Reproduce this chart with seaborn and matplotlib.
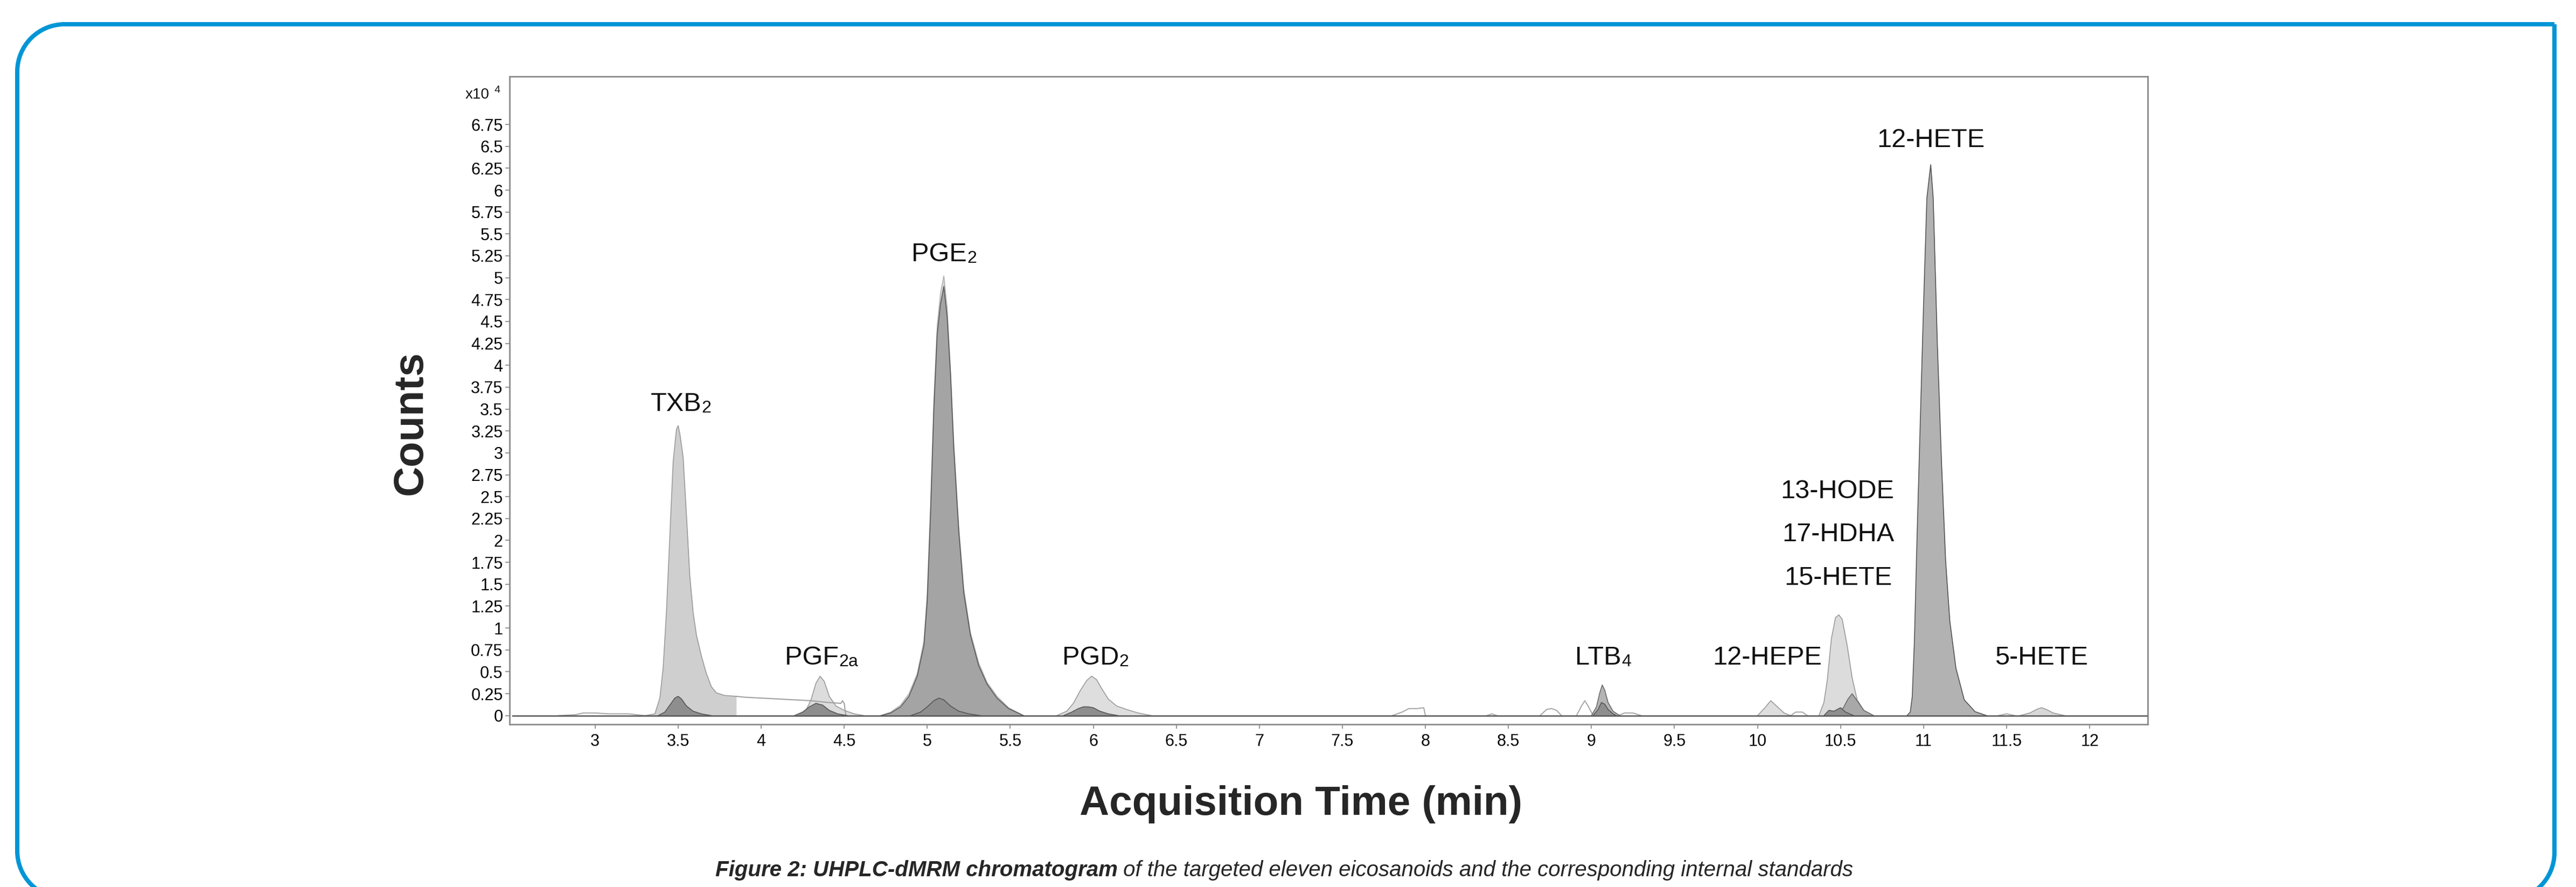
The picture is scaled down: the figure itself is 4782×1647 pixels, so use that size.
import numpy as np
import pandas as pd
import matplotlib.pyplot as plt
import seaborn as sns
from matplotlib import transforms
from matplotlib.lines import Line2D
from matplotlib.patches import Arc

# Chromatogram traces: time (min) and counts (x10^4)
# light traces (analytes)
txb2_t = [3.30, 3.36, 3.39, 3.41, 3.43, 3.45, 3.47, 3.49, 3.50, 3.51, 3.53, 3.55, 3.57, 3.59, 3.61, 3.64, 3.67, 3.70, 3.73, 3.78, 3.85]
txb2_y = [0.00, 0.02, 0.20, 0.55, 1.20, 2.05, 2.90, 3.27, 3.31, 3.22, 2.95, 2.29, 1.60, 1.18, 0.92, 0.68, 0.48, 0.33, 0.26, 0.23, 0.22]
txb2_tail_t = [3.85, 3.90, 4.00, 4.10, 4.20, 4.30, 4.40, 4.48, 4.49, 4.50, 4.51]
txb2_tail_y = [0.22, 0.21, 0.20, 0.19, 0.18, 0.17, 0.15, 0.14, 0.17, 0.14, 0.00]
pgf2a_t = [4.22, 4.27, 4.30, 4.33, 4.355, 4.38, 4.41, 4.45, 4.50, 4.56, 4.62]
pgf2a_y = [0.00, 0.06, 0.18, 0.37, 0.45, 0.39, 0.22, 0.11, 0.06, 0.02, 0.00]
pge2_light_t = [4.72, 4.78, 4.84, 4.89, 4.94, 4.98, 5.00, 5.02, 5.04, 5.06, 5.08, 5.10, 5.12, 5.14, 5.16, 5.19, 5.22, 5.26, 5.31, 5.36, 5.42, 5.49, 5.58]
pge2_light_y = [0.00, 0.04, 0.12, 0.25, 0.48, 0.85, 1.40, 2.40, 3.60, 4.45, 4.82, 5.02, 4.65, 3.95, 3.10, 2.15, 1.45, 0.95, 0.60, 0.38, 0.22, 0.09, 0.00]
pgd2_t = [5.78, 5.84, 5.88, 5.92, 5.96, 5.99, 6.02, 6.05, 6.09, 6.14, 6.20, 6.27, 6.35]
pgd2_y = [0.00, 0.05, 0.14, 0.28, 0.40, 0.45, 0.41, 0.31, 0.19, 0.11, 0.07, 0.03, 0.00]
hepe_t = [10.00, 10.04, 10.08, 10.12, 10.16, 10.20]
hepe_y = [0.00, 0.08, 0.17, 0.10, 0.03, 0.00]
hete15_t = [10.37, 10.40, 10.42, 10.445, 10.47, 10.49, 10.51, 10.54, 10.57, 10.60, 10.64, 10.69]
hete15_y = [0.00, 0.15, 0.40, 0.88, 1.12, 1.15, 1.10, 0.80, 0.43, 0.18, 0.06, 0.00]
hete5_t = [11.58, 11.64, 11.68, 11.71, 11.74, 11.78, 11.85]
hete5_y = [0.00, 0.03, 0.07, 0.09, 0.07, 0.03, 0.00]

# medium traces
pge2_t = [4.72, 4.78, 4.84, 4.89, 4.94, 4.98, 5.00, 5.02, 5.04, 5.06, 5.08, 5.10, 5.12, 5.14, 5.16, 5.19, 5.22, 5.26, 5.31, 5.36, 5.42, 5.49, 5.58]
pge2_y = [0.00, 0.03, 0.10, 0.22, 0.45, 0.80, 1.30, 2.30, 3.50, 4.35, 4.70, 4.90, 4.55, 3.90, 3.05, 2.10, 1.40, 0.92, 0.57, 0.36, 0.20, 0.08, 0.00]
ltb4_t = [9.00, 9.03, 9.05, 9.065, 9.08, 9.10, 9.13, 9.17]
ltb4_y = [0.00, 0.10, 0.26, 0.35, 0.29, 0.15, 0.05, 0.00]
hode_t = [10.47, 10.50, 10.52, 10.545, 10.57, 10.60, 10.64, 10.70]
hode_y = [0.00, 0.04, 0.10, 0.19, 0.25, 0.17, 0.06, 0.00]
hete12_t = [10.90, 10.92, 10.932, 10.945, 10.96, 10.98, 11.00, 11.02, 11.043, 11.058, 11.083, 11.108, 11.133, 11.158, 11.195, 11.245, 11.31, 11.38]
hete12_y = [0.00, 0.04, 0.22, 0.86, 1.98, 3.34, 4.69, 5.91, 6.29, 5.91, 4.24, 2.89, 1.76, 1.08, 0.54, 0.18, 0.045, 0.00]

# internal standards (dark)
is_txb2_t = [3.38, 3.42, 3.45, 3.48, 3.50, 3.52, 3.55, 3.59, 3.64, 3.70]
is_txb2_y = [0.00, 0.04, 0.12, 0.20, 0.22, 0.19, 0.11, 0.05, 0.02, 0.00]
is_pgf_t = [4.20, 4.25, 4.29, 4.33, 4.37, 4.41, 4.46, 4.52]
is_pgf_y = [0.00, 0.04, 0.10, 0.14, 0.12, 0.06, 0.02, 0.00]
is_pge_t = [4.90, 4.96, 5.00, 5.04, 5.07, 5.10, 5.14, 5.19, 5.25, 5.32]
is_pge_y = [0.00, 0.04, 0.10, 0.17, 0.20, 0.18, 0.11, 0.05, 0.02, 0.00]
is_pgd_t = [5.82, 5.87, 5.91, 5.94, 5.97, 6.00, 6.04, 6.09, 6.15]
is_pgd_y = [0.00, 0.04, 0.08, 0.10, 0.10, 0.09, 0.05, 0.02, 0.00]
is_ltb_t = [9.01, 9.04, 9.06, 9.08, 9.10, 9.13, 9.15]
is_ltb_y = [0.00, 0.07, 0.15, 0.13, 0.07, 0.02, 0.00]
is_hete_t = [10.40, 10.43, 10.46, 10.48, 10.50, 10.53, 10.58]
is_hete_y = [0.00, 0.06, 0.05, 0.07, 0.09, 0.04, 0.00]

# small unfilled bumps
bump_t = [[2.78, 2.88, 2.93, 3.00, 3.08, 3.20, 3.30],
          [7.80, 7.86, 7.90, 7.95, 7.99, 8.00],
          [8.37, 8.40, 8.43],
          [8.69, 8.73, 8.76, 8.79, 8.82],
          [8.91, 8.94, 8.96, 8.98, 9.01],
          [9.16, 9.20, 9.25, 9.30],
          [10.20, 10.23, 10.27, 10.30],
          [11.45, 11.50, 11.55]]
bump_y = [[0.00, 0.01, 0.03, 0.03, 0.02, 0.02, 0.00],
          [0.00, 0.04, 0.08, 0.08, 0.09, 0.00],
          [0.00, 0.02, 0.00],
          [0.00, 0.07, 0.08, 0.06, 0.00],
          [0.00, 0.11, 0.17, 0.11, 0.00],
          [0.00, 0.03, 0.03, 0.00],
          [0.00, 0.04, 0.04, 0.00],
          [0.00, 0.02, 0.00]]

base_t = [2.50, 12.35]
base_y = [0.0, 0.0]

xticks = [3, 3.5, 4, 4.5, 5, 5.5, 6, 6.5, 7, 7.5, 8, 8.5, 9, 9.5, 10, 10.5, 11, 11.5, 12]
yticks = [0, 0.25, 0.5, 0.75, 1, 1.25, 1.5, 1.75, 2, 2.25, 2.5, 2.75, 3, 3.25, 3.5, 3.75,
          4, 4.25, 4.5, 4.75, 5, 5.25, 5.5, 5.75, 6, 6.25, 6.5, 6.75]

# peak labels: (main, subscript, time, counts)
labels = [("TXB", "2", 3.518, 3.48), ("PGF", "2a", 4.364, 0.585), ("PGE", "2", 5.102, 5.19),
          ("PGD", "2", 6.014, 0.585), ("LTB", "4", 9.07, 0.585), ("12-HEPE", "", 10.06, 0.585),
          ("13-HODE", "", 10.48, 2.48), ("17-HDHA", "", 10.485, 1.99), ("15-HETE", "", 10.485, 1.49),
          ("12-HETE", "", 11.045, 6.49), ("5-HETE", "", 11.71, 0.585)]

sns.set_theme(style="white")
plt.rcParams['font.family'] = ['Liberation Sans', 'DejaVu Sans']

W, H = 4782, 1647
fig = plt.figure(figsize=(W / 100, H / 100), dpi=100)
ax = fig.add_axes([946 / W, 1 - 1345 / H, (3987 - 946) / W, (1345 - 141.6) / H])


def trace(t, y, fill, edge, z, lw=1.2):
    df = pd.DataFrame({"time": t, "counts": y})
    if fill is not None:
        ax.fill_between(df["time"], df["counts"], 0, color=fill, lw=0, zorder=z)
    sns.lineplot(data=df, x="time", y="counts", color=edge, lw=lw, estimator=None,
                 sort=False, ax=ax, zorder=z + 0.1)


light_edge = "#9a9a9a"
for t, y in zip(bump_t, bump_y):
    trace(t, y, None, "#a8a8a8", 2, lw=1.5)
trace(txb2_tail_t, txb2_tail_y, None, "#a0a0a0", 2, lw=1.5)
trace(txb2_t, txb2_y, "#cfcfcf", light_edge, 2)
trace(pgf2a_t, pgf2a_y, "#dcdcdc", light_edge, 2)
trace(pge2_light_t, pge2_light_y, "#d8d8d8", "#b0b0b0", 2)
trace(pgd2_t, pgd2_y, "#dedede", light_edge, 2)
trace(hepe_t, hepe_y, "#dedede", light_edge, 2)
trace(hete15_t, hete15_y, "#dcdcdc", light_edge, 2)
trace(hete5_t, hete5_y, "#d8d8d8", light_edge, 2)

trace(pge2_t, pge2_y, "#a4a4a4", "#5a5a5a", 3)
trace(ltb4_t, ltb4_y, "#b4b4b4", "#6a6a6a", 3)
trace(hode_t, hode_y, "#a8a8a8", "#6a6a6a", 3)
trace(hete12_t, hete12_y, "#b2b2b2", "#555555", 3)

for t, y in [(is_txb2_t, is_txb2_y), (is_pgf_t, is_pgf_y), (is_pge_t, is_pge_y),
             (is_pgd_t, is_pgd_y), (is_ltb_t, is_ltb_y), (is_hete_t, is_hete_y)]:
    trace(t, y, "#8e8e8e", "#555555", 4)

trace(base_t, base_y, None, "#555555", 5, lw=1.8)

ax.set_xlim(2.485, 12.35)
ax.set_ylim(-0.1, 7.3)
ax.set_xticks(xticks)
ax.set_xticklabels([f"{v:g}" for v in xticks])
ax.set_yticks(yticks)
ax.set_yticklabels([f"{v:g}" for v in yticks])
ax.set_xlabel("")
ax.set_ylabel("")
ax.tick_params(axis="both", direction="out", length=6, width=1.5, color="#999999",
               labelsize=22, labelcolor="#000000")
ax.tick_params(axis="x", pad=6)
ax.tick_params(axis="y", pad=3)
ax.tick_params(bottom=True, left=True)
for s in ax.spines.values():
    s.set_color("#8a8a8a")
    s.set_linewidth(2)

# peak labels with small subscripts
for main, sub, x, y in labels:
    fs, fs_sub = 35, 23
    shift = 0.5 * 0.556 * fs_sub * len(sub)
    tr = transforms.offset_copy(ax.transData, fig=fig, x=-shift, y=0, units="points")
    txt = ax.text(x, y, main, transform=tr, ha="center", va="baseline", fontsize=fs,
                  color="#111111", zorder=10)
    if sub:
        ax.annotate(sub, xy=(1, 0), xycoords=txt, ha="left", va="bottom",
                    fontsize=fs_sub, color="#111111", zorder=10)

# scale factor label
fig.text(864 / W, 1 - 183 / H, "x10", fontsize=20, va="baseline", ha="left", color="#111111")
fig.text(918 / W, 1 - 172 / H, "4", fontsize=14, va="baseline", ha="left", color="#111111")

fig.text(762 / W, 1 - 785 / H, "Counts", rotation=90, ha="center", va="center",
         fontsize=56, fontweight="bold")
fig.text(2415 / W, 1 - 1513 / H, "Acquisition Time (min)", ha="center", va="baseline",
         fontsize=55, fontweight="bold")

# caption: bold italic lead + italic rest
yb = 1 - 1627 / H
c1 = fig.text(0, yb, "Figure 2: UHPLC-dMRM chromatogram", fontsize=29, fontstyle="italic",
              fontweight="bold", va="baseline", ha="left")
c2 = fig.text(0, yb, " of the targeted eleven eicosanoids and the corresponding internal standards",
              fontsize=29, fontstyle="italic", va="baseline", ha="left")
r = fig.canvas.get_renderer()
w1 = c1.get_window_extent(r).width
w2 = c2.get_window_extent(r).width
x0 = 2384 - (w1 + w2) / 2
c1.set_x(x0 / W)
c2.set_x((x0 + w1) / W)

# blue frame in pixel coordinates (y measured from top of image)
blue, bw = "#0096d6", 5.8
L, R, T, rad = 32, 4742, 45, 88
ident = transforms.IdentityTransform()
segments = [((L, L), (T + rad, 1580)), ((L + rad, R), (T, T)), ((R, R), (T, 1583))]
for xs, ys in segments:
    fig.add_artist(Line2D(xs, [H - v for v in ys], color=blue, lw=bw, transform=ident,
                          solid_capstyle="butt"))
corners = [((L + rad, H - (T + rad)), 90, 180), ((L + rad, H - 1580), 180, 270),
           ((R - rad, H - 1583), 270, 360)]
for c, a1, a2 in corners:
    fig.add_artist(Arc(c, 2 * rad, 2 * rad, theta1=a1, theta2=a2, color=blue, lw=bw,
                       transform=ident))

fig.savefig("out.png", dpi=100)
